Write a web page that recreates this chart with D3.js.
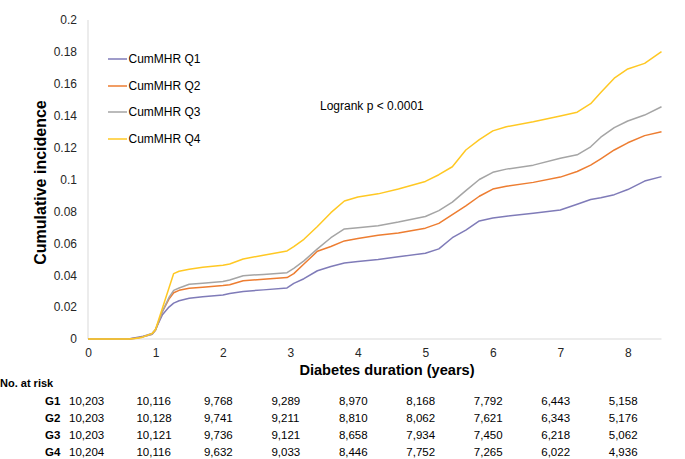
<!DOCTYPE html>
<html>
<head>
<meta charset="utf-8">
<script src="https://cdn.jsdelivr.net/npm/d3@7"></script>
<style>
  html, body { margin: 0; padding: 0; background: #fff; }
  svg { display: block; font-family: "Liberation Sans", Arial, sans-serif; }
</style>
</head>
<body>
<svg id="chart" width="685" height="459"></svg>
<script>
// ---- data ----
const times = [0, 0.6, 0.7, 0.8, 0.95, 1.0, 1.1, 1.2, 1.27, 1.35, 1.5, 1.7, 2.0, 2.1, 2.3, 2.6, 2.95, 3.05, 3.2, 3.4, 3.6, 3.8, 4.0, 4.3, 4.6, 5.0, 5.2, 5.4, 5.6, 5.8, 6.0, 6.2, 6.6, 7.0, 7.25, 7.45, 7.6, 7.8, 8.0, 8.25, 8.5];
const q1 = [0, 0, 0.0008, 0.0015, 0.0035, 0.006, 0.015, 0.020, 0.0225, 0.024, 0.0255, 0.0265, 0.0276, 0.0285, 0.0298, 0.0308, 0.032, 0.0349, 0.0378, 0.0428, 0.0455, 0.0477, 0.0486, 0.0498, 0.0515, 0.0538, 0.0565, 0.0635, 0.0683, 0.074, 0.0758, 0.077, 0.0788, 0.0809, 0.0845, 0.0875, 0.0885, 0.0905, 0.0937, 0.099, 0.1018];
const q2 = [0, 0, 0.0004, 0.0012, 0.003, 0.0055, 0.017, 0.025, 0.029, 0.0305, 0.0318, 0.0325, 0.0335, 0.034, 0.0365, 0.0375, 0.0385, 0.041, 0.047, 0.055, 0.058, 0.0615, 0.063, 0.065, 0.0665, 0.0695, 0.0725, 0.078, 0.0835, 0.0895, 0.094, 0.0958, 0.0982, 0.1015, 0.105, 0.109, 0.113, 0.1185, 0.123, 0.1275, 0.13];
const q3 = [0, 0, 0.0004, 0.0012, 0.003, 0.0055, 0.017, 0.026, 0.0305, 0.032, 0.0343, 0.035, 0.036, 0.037, 0.0397, 0.0405, 0.0416, 0.0443, 0.049, 0.0565, 0.0635, 0.069, 0.0698, 0.071, 0.0733, 0.0768, 0.0805, 0.0858, 0.093, 0.1, 0.1045, 0.1065, 0.109, 0.1133, 0.1155, 0.1205, 0.1265, 0.1325, 0.1367, 0.1404, 0.1456];
const q4 = [0, 0, 0.0003, 0.001, 0.0035, 0.006, 0.019, 0.032, 0.041, 0.0425, 0.0437, 0.045, 0.0462, 0.047, 0.0502, 0.0525, 0.0552, 0.0579, 0.0625, 0.0705, 0.0792, 0.0865, 0.089, 0.091, 0.094, 0.0988, 0.103, 0.108, 0.1185, 0.125, 0.1305, 0.1331, 0.1362, 0.1398, 0.1422, 0.1475, 0.1545, 0.1635, 0.1693, 0.1728, 0.1801];
const seriesNames = ["CumMHR Q1", "CumMHR Q2", "CumMHR Q3", "CumMHR Q4"];
const seriesColors = ["#7F7BB8", "#ED7D31", "#A5A5A5", "#FFC823"];
const xTicks = [0, 1, 2, 3, 4, 5, 6, 7, 8];
const yTicks = [0, 0.02, 0.04, 0.06, 0.08, 0.1, 0.12, 0.14, 0.16, 0.18, 0.2];
const riskGroups = ["G1", "G2", "G3", "G4"];
const riskG1 = ["10,203", "10,116", "9,768", "9,289", "8,970", "8,168", "7,792", "6,443", "5,158"];
const riskG2 = ["10,203", "10,128", "9,741", "9,211", "8,810", "8,062", "7,621", "6,343", "5,176"];
const riskG3 = ["10,203", "10,121", "9,736", "9,121", "8,658", "7,934", "7,450", "6,218", "5,062"];
const riskG4 = ["10,204", "10,116", "9,632", "9,033", "8,446", "7,752", "7,265", "6,022", "4,936"];
const annotation = "Logrank p < 0.0001";

// ---- chart ----
const svg = d3.select("#chart");
const x = d3.scaleLinear().domain([0, 8.5]).range([88, 661.5]);
const y = d3.scaleLinear().domain([0, 0.2]).range([339, 20]);
const fmtY = d => d === 0 ? "0" : String(+d.toFixed(2));

// axes lines
svg.append("line").attr("x1", x(0)).attr("x2", x(0)).attr("y1", y(0.2)).attr("y2", y(0))
  .attr("stroke", "#D9D9D9").attr("stroke-width", 1);
svg.append("line").attr("x1", x(0)).attr("x2", x(8.5)).attr("y1", y(0)).attr("y2", y(0))
  .attr("stroke", "#D9D9D9").attr("stroke-width", 1);

// y tick labels
const yAxis = d3.axisLeft(y).tickValues(yTicks).tickFormat(fmtY).tickSize(0).tickPadding(11);
const gy = svg.append("g").attr("transform", `translate(${x(0)},0)`).call(yAxis);
gy.select(".domain").remove();
gy.selectAll("text").attr("font-size", 12).attr("fill", "#262626")
  .attr("font-family", "'Liberation Sans', Arial, sans-serif");

// x tick labels
const xAxis = d3.axisBottom(x).tickValues(xTicks).tickFormat(d3.format("d")).tickSize(0).tickPadding(9);
const gx = svg.append("g").attr("transform", `translate(0,${y(0)})`).call(xAxis);
gx.select(".domain").remove();
gx.selectAll("text").attr("font-size", 12).attr("fill", "#262626")
  .attr("font-family", "'Liberation Sans', Arial, sans-serif");

// axis titles
svg.append("text").attr("transform", `translate(46,${(y(0) + y(0.2)) / 2 + 3}) rotate(-90)`)
  .attr("text-anchor", "middle").attr("font-size", 16).attr("font-weight", "bold").attr("fill", "#000")
  .text("Cumulative incidence");
svg.append("text").attr("x", 387).attr("y", 375).attr("text-anchor", "middle")
  .attr("font-size", 14.6).attr("font-weight", "bold").attr("fill", "#000")
  .text("Diabetes duration (years)");

// curves
const allSeries = [q1, q2, q3, q4];
const line = d3.line().x((d, i) => x(times[i])).y(d => y(d));
allSeries.forEach((s, k) => {
  svg.append("path").datum(s).attr("d", line).attr("fill", "none")
    .attr("stroke", seriesColors[k]).attr("stroke-width", 1.5).attr("stroke-linejoin", "round");
});

// legend
const legendY = [59, 86, 112, 139];
seriesNames.forEach((n, k) => {
  svg.append("line").attr("x1", 108).attr("x2", 127).attr("y1", legendY[k]).attr("y2", legendY[k])
    .attr("stroke", seriesColors[k]).attr("stroke-width", 1.5);
  svg.append("text").attr("x", 128.5).attr("y", legendY[k] + 4.2).attr("font-size", 12).attr("fill", "#000")
    .text(n);
});

// annotation
svg.append("text").attr("x", 320).attr("y", 109.5).attr("font-size", 12).attr("fill", "#000").text(annotation);

// risk table
svg.append("text").attr("x", 0).attr("y", 387).attr("font-size", 11).attr("font-weight", "bold").text("No. at risk");
const riskRows = [riskG1, riskG2, riskG3, riskG4];
const rowY = [404.5, 421.8, 439.1, 456.4];
riskRows.forEach((row, r) => {
  svg.append("text").attr("x", 45).attr("y", rowY[r]).attr("font-size", 11.5).attr("font-weight", "bold")
    .text(riskGroups[r]);
  row.forEach((v, i) => {
    svg.append("text").attr("x", x(xTicks[i]) - 19).attr("y", rowY[r]).attr("font-size", 11.5).text(v);
  });
});
</script>
</body>
</html>
